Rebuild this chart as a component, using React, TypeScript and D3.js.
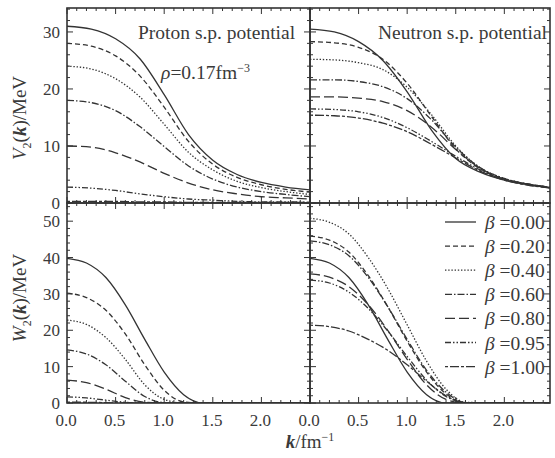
import React from "react";
import * as d3 from "d3";

// beta values (legend order)
const betas = ["0.00", "0.20", "0.40", "0.60", "0.80", "0.95", "1.00"];

// k grids (fm^-1)
const kV = [0, 0.25, 0.5, 0.75, 1.0, 1.25, 1.5, 1.75, 2.0, 2.25, 2.5];
const kW = [0, 0.2, 0.4, 0.6, 0.8, 1.0, 1.2, 1.4, 1.6, 2.0, 2.5];

// V2(k) proton, MeV — one row per beta
const protonV = [
  [31.0, 30.5, 28.8, 25.3, 19.0, 12.0, 7.5, 5.0, 3.6, 2.8, 2.3],
  [28.0, 27.5, 25.8, 22.3, 16.8, 10.8, 6.8, 4.5, 3.2, 2.4, 1.9],
  [24.0, 23.5, 21.8, 18.6, 13.8, 8.9, 5.8, 3.8, 2.7, 2.0, 1.5],
  [18.0, 17.6, 16.2, 13.4, 9.9, 6.5, 4.2, 2.8, 2.0, 1.5, 1.1],
  [10.0, 9.8, 8.8, 7.2, 5.2, 3.5, 2.3, 1.6, 1.1, 0.9, 0.7],
  [2.8, 2.6, 2.2, 1.6, 1.1, 0.7, 0.5, 0.3, 0.2, 0.2, 0.1],
  [0.3, 0.3, 0.3, 0.2, 0.2, 0.1, 0.1, 0.1, 0.1, 0.1, 0.1],
];

// V2(k) neutron, MeV
const neutronV = [
  [30.5, 30.0, 28.3, 25.0, 19.5, 12.8, 7.8, 5.4, 4.0, 3.2, 2.6],
  [28.3, 28.1, 27.3, 25.2, 21.0, 15.2, 9.5, 6.0, 4.2, 3.3, 2.7],
  [25.2, 25.1, 24.6, 23.4, 20.3, 15.5, 10.0, 6.2, 4.3, 3.3, 2.7],
  [21.6, 21.6, 21.3, 20.4, 18.3, 14.6, 9.8, 6.2, 4.3, 3.3, 2.7],
  [18.6, 18.6, 18.4, 17.8, 16.2, 13.3, 9.4, 6.1, 4.2, 3.3, 2.7],
  [16.5, 16.4, 16.0, 15.0, 13.2, 10.8, 8.2, 5.8, 4.1, 3.2, 2.6],
  [15.4, 15.3, 14.9, 14.0, 12.5, 10.3, 7.9, 5.6, 4.0, 3.1, 2.6],
];

// W2(k) proton, MeV
const protonW = [
  [39.8, 38.5, 34.5, 27.0, 17.5, 8.5, 2.3, 0, 0, 0, 0],
  [30.2, 29.0, 25.5, 19.0, 10.5, 3.5, 0.3, 0, 0, 0, 0],
  [22.8, 21.6, 18.0, 12.0, 5.0, 1.0, 0, 0, 0, 0, 0],
  [14.6, 13.5, 10.5, 6.0, 1.8, 0.1, 0, 0, 0, 0, 0],
  [6.3, 5.6, 3.8, 1.5, 0.2, 0, 0, 0, 0, 0, 0],
  [1.7, 1.4, 0.8, 0.2, 0, 0, 0, 0, 0, 0, 0],
  [0.2, 0.2, 0.1, 0, 0, 0, 0, 0, 0, 0, 0],
];

// W2(k) neutron, MeV
const neutronW = [
  [39.8, 38.5, 34.5, 27.0, 17.5, 8.5, 2.3, 0, 0, 0, 0],
  [45.9, 44.8, 41.5, 35.0, 26.5, 17.0, 8.5, 2.5, 0, 0, 0],
  [50.8, 49.7, 46.5, 40.0, 31.5, 21.5, 11.5, 3.8, 0.2, 0, 0],
  [44.6, 43.5, 40.5, 34.5, 26.5, 17.5, 9.0, 3.0, 0.1, 0, 0],
  [35.5, 34.6, 32.0, 27.0, 20.0, 12.0, 5.0, 1.0, 0, 0, 0],
  [33.8, 33.0, 30.5, 26.0, 19.8, 12.8, 6.3, 1.8, 0, 0, 0],
  [21.4, 21.0, 19.8, 17.5, 14.5, 10.5, 6.0, 2.0, 0, 0, 0],
];

const xTickLabels = ["0.0", "0.5", "1.0", "1.5", "2.0"];
const vTicks = [0, 10, 20, 30];
const wTicks = [0, 10, 20, 30, 40, 50];

const dashes = ["", "5,3", "1.4,1.8", "7,2,1.5,2", "10,4", "6,2,1.5,2,1.5,2", "3,2,9,2"];

const ink = "#333";
const textInk = "#3a3a3a";
const serif = "'Liberation Serif', 'DejaVu Serif', serif";

const W = 555;
const H = 458;
const xL = 67, xM = 310, xR = 550;
const yT = 8, yM = 203, yB = 403;

type Panel = {
  id: string;
  x0: number; x1: number; y0: number; y1: number;
  kMax: number; yMax: number;
  grid: number[]; rows: number[][];
  yMajor: number; yMinor: number;
  yLabels: boolean; xLabels: boolean;
};

const panels: Panel[] = [
  { id: "pv", x0: xL, x1: xM, y0: yT, y1: yM, kMax: 2.5, yMax: 34.2, grid: kV, rows: protonV, yMajor: 10, yMinor: 2, yLabels: true, xLabels: false },
  { id: "nv", x0: xM, x1: xR, y0: yT, y1: yM, kMax: 2.47, yMax: 34.2, grid: kV, rows: neutronV, yMajor: 10, yMinor: 2, yLabels: false, xLabels: false },
  { id: "pw", x0: xL, x1: xM, y0: yM, y1: yB, kMax: 2.5, yMax: 55, grid: kW, rows: protonW, yMajor: 10, yMinor: 2, yLabels: true, xLabels: true },
  { id: "nw", x0: xM, x1: xR, y0: yM, y1: yB, kMax: 2.47, yMax: 55, grid: kW, rows: neutronW, yMajor: 10, yMinor: 2, yLabels: false, xLabels: true },
];

function PanelView({ p }: { p: Panel }) {
  const x = d3.scaleLinear().domain([0, p.kMax]).range([p.x0, p.x1]);
  const y = d3.scaleLinear().domain([0, p.yMax]).range([p.y1, p.y0]);
  const line = d3
    .line<number>()
    .x((_, i) => x(p.grid[i]))
    .y((d) => y(d))
    .curve(d3.curveMonotoneX);

  const xMinor = d3.range(0, p.kMax + 1e-6, 0.1);
  const yMinorT = d3.range(0, p.yMax + 1e-6, p.yMinor);
  const isMajorX = (v: number) => Math.abs(v / 0.5 - Math.round(v / 0.5)) < 1e-6;
  const isMajorY = (v: number) => Math.abs(v % p.yMajor) < 1e-6;

  return (
    <g>
      <defs>
        <clipPath id={`clip-${p.id}`}>
          <rect x={p.x0} y={p.y0} width={p.x1 - p.x0} height={p.y1 - p.y0} />
        </clipPath>
      </defs>
      <g clipPath={`url(#clip-${p.id})`} fill="none" stroke={ink} strokeWidth={1.3}>
        {p.rows.map((r, i) => (
          <path key={i} d={line(r) || ""} strokeDasharray={dashes[i] || undefined} />
        ))}
      </g>
      {/* ticks, inward on all sides */}
      <g stroke={ink} strokeWidth={1}>
        {xMinor.map((v, i) => {
          const len = isMajorX(v) ? 6 : 3;
          return (
            <g key={i}>
              <line x1={x(v)} x2={x(v)} y1={p.y1} y2={p.y1 - len} />
              <line x1={x(v)} x2={x(v)} y1={p.y0} y2={p.y0 + len} />
            </g>
          );
        })}
        {yMinorT.map((v, i) => {
          const len = isMajorY(v) ? 6 : 3;
          return (
            <g key={i}>
              <line x1={p.x0} x2={p.x0 + len} y1={y(v)} y2={y(v)} />
              <line x1={p.x1} x2={p.x1 - len} y1={y(v)} y2={y(v)} />
            </g>
          );
        })}
      </g>
      <rect x={p.x0} y={p.y0} width={p.x1 - p.x0} height={p.y1 - p.y0} fill="none" stroke={ink} strokeWidth={1.6} />
      {p.yLabels &&
        (p.yMax > 40 ? wTicks : vTicks).map((v) => (
          <text key={v} x={p.x0 - 7} y={y(v) + 6} textAnchor="end" fontSize={17} fill={textInk} fontFamily={serif}>
            {v}
          </text>
        ))}
      {p.xLabels &&
        xTickLabels.map((t) => (
          <text key={t} x={x(+t) - 1} y={p.y1 + 23} textAnchor="middle" fontSize={17} fill={textInk} fontFamily={serif}>
            {t}
          </text>
        ))}
    </g>
  );
}

export default function App() {
  const legendX0 = 445;
  const legendY0 = 222;
  const legendStep = 24.1;
  return (
    <svg width={W} height={H} style={{ position: "absolute", left: 0, top: 0, background: "#fff" }}>
      {panels.map((p) => (
        <PanelView key={p.id} p={p} />
      ))}

      <text x={138} y={39} fontSize={19.5} fill={textInk} fontFamily={serif}>
        Proton s.p. potential
      </text>
      <text x={161} y={79} fontSize={19.5} fill={textInk} fontFamily={serif}>
        <tspan fontStyle="italic">ρ</tspan>=0.17fm<tspan dy={-7} fontSize={12}>−3</tspan>
      </text>
      <text x={378} y={39} fontSize={19.5} fill={textInk} fontFamily={serif}>
        Neutron s.p. potential
      </text>

      {/* legend */}
      {betas.map((b, i) => {
        const yy = legendY0 + i * legendStep;
        return (
          <g key={b}>
            <line x1={legendX0} x2={legendX0 + 31} y1={yy} y2={yy} stroke={ink} strokeWidth={1.3} strokeDasharray={dashes[i] || undefined} />
            <text x={485} y={yy + 7} fontSize={19.5} fill={textInk} fontFamily={serif}>
              <tspan fontStyle="italic">β</tspan> =
              {b}
            </text>
          </g>
        );
      })}

      {/* axis titles */}
      <text x={310} y={448} textAnchor="middle" fontSize={19} fill={textInk} fontFamily={serif}>
        <tspan fontStyle="italic" fontWeight="bold">k</tspan>/fm<tspan dy={-7} fontSize={12}>−1</tspan>
      </text>
      <text transform="translate(26,118) rotate(-90)" textAnchor="middle" fontSize={19} fill={textInk} fontFamily={serif}>
        <tspan fontStyle="italic">V</tspan>
        <tspan dy={5} fontSize={12}>2</tspan>
        <tspan dy={-5}>(</tspan>
        <tspan fontStyle="italic" fontWeight="bold">k</tspan>
        <tspan>)/MeV</tspan>
      </text>
      <text transform="translate(26,298) rotate(-90)" textAnchor="middle" fontSize={19} fill={textInk} fontFamily={serif}>
        <tspan fontStyle="italic">W</tspan>
        <tspan dy={5} fontSize={12}>2</tspan>
        <tspan dy={-5}>(</tspan>
        <tspan fontStyle="italic" fontWeight="bold">k</tspan>
        <tspan>)/MeV</tspan>
      </text>
    </svg>
  );
}
